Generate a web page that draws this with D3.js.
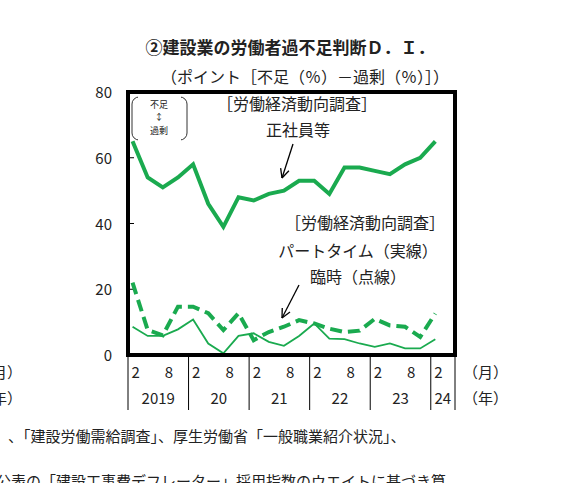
<!DOCTYPE html>
<html>
<head>
<meta charset="utf-8">
<script src="https://cdn.jsdelivr.net/npm/d3@7"></script>
<style>
  body { margin: 0; background: #fff; }
  text { font-family: "Noto Sans CJK JP", sans-serif; fill: #222; }
</style>
</head>
<body>
<script>
// quarterly: 2019/2 ... 2024/2 (Feb, May, Aug, Nov)
var regular = [65,54,51,54,58,46,39,48,47,49,50,53,53,49,57,57,56,55,58,60,65];
var partTime = [8.6,5.8,5.8,7.8,10.8,3.5,0.5,5.8,6.6,4,2.8,5.8,9.6,5,4.8,3.5,2.5,3.5,2,2,4.8];
var temporary = [22,7.6,6,14.7,14.7,12.7,7.6,12.7,4.5,7,8.6,10.6,9.6,8,7,7.4,11,9,8.6,5.5,12.6];
var years = ["2019","20","21","22","23","24"];
var yTicks = [0,20,40,60,80];

var W = 578, H = 483;
var svg = d3.select("body").append("svg").attr("width", W).attr("height", H);
var green = "#1aaa4f";

var x = d3.scaleLinear().domain([-0.3, 21.3]).range([128, 455]);
var y = d3.scaleLinear().domain([0, 80]).range([355, 92]);

svg.append("text").attr("x", 290).attr("y", 54).attr("text-anchor", "middle")
  .style("font-size", "17px").style("font-weight", "bold").text("②建設業の労働者過不足判断Ｄ．Ｉ．");
svg.append("text").attr("x", 305).attr("y", 83).attr("text-anchor", "middle")
  .style("font-size", "16px").text("（ポイント［不足（％）－過剰（％）］）");

// y ticks
yTicks.forEach(function (t) {
  svg.append("text").attr("x", 112).attr("y", y(t) + 6).attr("text-anchor", "end")
    .style("font-size", "15px").text(t);
  svg.append("line").attr("x1", 128).attr("x2", 134).attr("y1", y(t)).attr("y2", y(t))
    .attr("stroke", "#000");
});

// lines
var line = d3.line().x(function (d, i) { return x(i); }).y(function (d) { return y(d); });
svg.append("path").datum(regular).attr("d", line).attr("fill", "none")
  .attr("stroke", green).attr("stroke-width", 4);
svg.append("path").datum(partTime).attr("d", line).attr("fill", "none")
  .attr("stroke", green).attr("stroke-width", 1.8);
svg.append("path").datum(temporary).attr("d", line).attr("fill", "none")
  .attr("stroke", green).attr("stroke-width", 4).attr("stroke-dasharray", "12,6");

// frame
svg.append("rect").attr("x", 128).attr("y", 92).attr("width", 327).attr("height", 263)
  .attr("fill", "none").attr("stroke", "#000").attr("stroke-width", 4);

// x axis labels
for (var k = 0; k <= 5; k++) {
  var bx = x(4 * k - 0.3);
  svg.append("line").attr("x1", bx).attr("x2", bx).attr("y1", 357).attr("y2", 410)
    .attr("stroke", "#000");
  svg.append("text").attr("x", x(4 * k) - 1).attr("y", 378).style("font-size", "15px").text("2");
  if (k < 5) svg.append("text").attr("x", x(4 * k + 2) + 2).attr("y", 378).style("font-size", "15px").text("8");
  var endI = k < 5 ? 4 * k + 3.7 : 21.3;
  svg.append("text").attr("x", (bx + x(endI)) / 2).attr("y", 404).attr("text-anchor", "middle")
    .style("font-size", "15px").text(years[k]);
}
svg.append("line").attr("x1", x(21.3)).attr("x2", x(21.3)).attr("y1", 357).attr("y2", 410).attr("stroke", "#000");
svg.append("text").attr("x", 463).attr("y", 378).style("font-size", "15px").text("（月）");
svg.append("text").attr("x", 463).attr("y", 404).style("font-size", "15px").text("（年）");
svg.append("text").attr("x", -8).attr("y", 378).style("font-size", "15px").text("月）");
svg.append("text").attr("x", -8).attr("y", 404).style("font-size", "15px").text("年）");

// annotations
var bx0 = 132, by0 = 97;
svg.append("rect").attr("x", bx0).attr("y", by0).attr("width", 55).attr("height", 43)
  .attr("rx", 7).attr("fill", "#fff").attr("stroke", "#333").attr("stroke-width", 1);
svg.append("rect").attr("x", bx0 + 6).attr("y", by0 - 2).attr("width", 43).attr("height", 47).attr("fill", "#fff");
svg.append("text").attr("x", 159).attr("y", 108).attr("text-anchor", "middle").style("font-size", "9px").text("不足");
svg.append("text").attr("x", 159).attr("y", 120).attr("text-anchor", "middle").style("font-size", "9px").text("↕");
svg.append("text").attr("x", 159).attr("y", 134).attr("text-anchor", "middle").style("font-size", "9px").text("過剰");

svg.append("text").attr("x", 297).attr("y", 110).attr("text-anchor", "middle").style("font-size", "16px").text("［労働経済動向調査］");
svg.append("text").attr("x", 298).attr("y", 136).attr("text-anchor", "middle").style("font-size", "16px").text("正社員等");
svg.append("text").attr("x", 365).attr("y", 229).attr("text-anchor", "middle").style("font-size", "16px").text("［労働経済動向調査］");
svg.append("text").attr("x", 358).attr("y", 257).attr("text-anchor", "middle").style("font-size", "16px").text("パートタイム（実線）");
svg.append("text").attr("x", 358).attr("y", 283).attr("text-anchor", "middle").style("font-size", "16px").text("臨時（点線）");

function arrow(x1, y1, x2, y2) {
  svg.append("line").attr("x1", x1).attr("y1", y1).attr("x2", x2).attr("y2", y2).attr("stroke", "#000").attr("stroke-width", 1.3);
  var a = Math.atan2(y2 - y1, x2 - x1);
  [0.45, -0.45].forEach(function (d) {
    svg.append("line").attr("x1", x2).attr("y1", y2)
      .attr("x2", x2 - 10 * Math.cos(a + d)).attr("y2", y2 - 10 * Math.sin(a + d))
      .attr("stroke", "#000").attr("stroke-width", 1.3);
  });
}
arrow(293, 144, 282, 178);
arrow(299, 285, 282, 318);

// footnotes (cut off)
svg.append("text").attr("x", 8).attr("y", 442).style("font-size", "15px").text("、「建設労働需給調査」、厚生労働省「一般職業紹介状況」、");
svg.append("text").attr("x", -4).attr("y", 487).style("font-size", "15px").text("公表の「建設工事費デフレーター」採用指数のウエイトに基づき算");
</script>
</body>
</html>
